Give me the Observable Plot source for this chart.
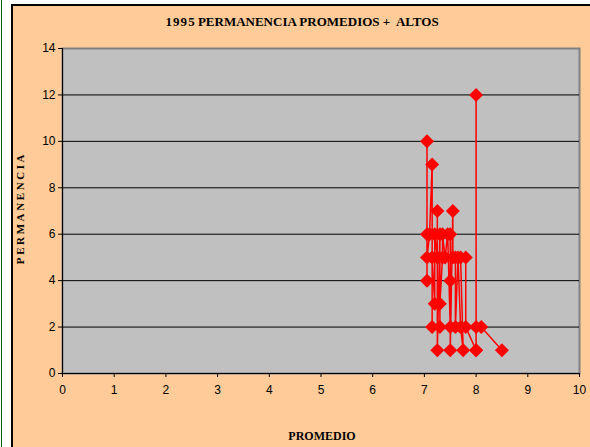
<!DOCTYPE html>
<html><head><meta charset="utf-8">
<script src="https://cdn.jsdelivr.net/npm/d3@7"></script>
<script src="https://cdn.jsdelivr.net/npm/@observablehq/plot@0.6"></script>
<style>
html,body{margin:0;padding:0;background:#fff;width:590px;height:447px;overflow:hidden;}
#wrap{position:relative;width:590px;height:447px;}
#greenline{position:absolute;left:1px;top:0;width:1px;height:447px;background:#006400;}
#panel{position:absolute;left:11px;top:4px;width:579px;height:443px;background:#FFCC99;border-left:2px solid #000;border-top:2px solid #000;box-sizing:border-box;}
#chart{position:absolute;left:0;top:0;}
.t{position:absolute;font-family:"Liberation Serif","Times New Roman",serif;font-weight:bold;color:#000;white-space:nowrap;}
#title{left:0;width:590px;top:14px;text-align:center;font-size:13px;letter-spacing:0px;padding-left:14px;box-sizing:border-box;}
#xlab{left:0;width:590px;top:429px;text-align:center;font-size:12px;padding-left:54px;box-sizing:border-box;}
#ylab{left:20px;top:208px;font-size:11px;letter-spacing:2.6px;transform:translate(-50%,-50%) rotate(-90deg);}
</style></head>
<body>
<div id="wrap">
<div id="greenline"></div>
<div id="panel"></div>
<div id="chart"></div>
<div class="t" id="title">1&#8202;9&#8202;9&#8202;5 PERMANENCIA PROMEDIOS +&nbsp; ALTOS</div>
<div class="t" id="xlab">PROMEDIO</div>
<div class="t" id="ylab">PERMANENCIA</div>
</div>
<script>
const promedio    = [7.05, 7.05, 7.05, 7.05, 7.10, 7.15, 7.15, 7.15, 7.20, 7.20, 7.25, 7.25, 7.25, 7.30, 7.30, 7.30, 7.35, 7.35, 7.40, 7.45, 7.50, 7.50, 7.50, 7.50, 7.55, 7.55, 7.60, 7.60, 7.65, 7.70, 7.75, 7.70, 7.80, 7.80, 8.00, 8.00, 8.00, 8.00, 8.10, 8.50];
const permanencia = [6,    10,   4,    5,    6,    9,    2,    5,    3,    6,    5,    7,    1,    6,    2,    3,    5,    6,    5,    6,    2,    4,    6,    1,    7,    5,    5,    2,    5,    2,    1,    5,    5,    2,    1,    12,   1,    2,    2,    1];
const xTicks = [0,1,2,3,4,5,6,7,8,9,10];
const yTicks = [0,2,4,6,8,10,12,14];

const data = promedio.map((p,i)=>({x:p, y:permanencia[i]}));

const chart = Plot.plot({
  width: 590, height: 447,
  marginLeft: 62, marginRight: 11, marginTop: 48, marginBottom: 74,
  style: {background: "transparent", fontFamily: "'Liberation Sans Narrow', 'Liberation Sans', Arial, sans-serif", fontSize: "12px", color: "#000"},
  x: {domain: [0,10], ticks: xTicks, label: null},
  y: {domain: [0,14], ticks: yTicks, label: null},
  marks: [
    Plot.frame({fill: "#C0C0C0", stroke: "#808080", strokeWidth: 2}),
    Plot.gridY(yTicks.filter(d=>d>0 && d<14), {stroke: "#000", strokeOpacity: 1, strokeWidth: 1}),
    Plot.ruleX([0], {stroke: "#000"}),
    Plot.ruleY([0], {stroke: "#000"}),
    Plot.axisX({ticks: xTicks, tickSize: 4, tickPadding: 8, label: null, stroke: "#000"}),
    Plot.axisY({ticks: yTicks, tickSize: 4, tickPadding: 3, label: null, stroke: "#000"}),
    Plot.line(data, {x: "x", y: "y", stroke: "#FF0000", strokeWidth: 1.5}),
    Plot.dot(data, {x: "x", y: "y", symbol: "diamond2", r: 6.3, fill: "#FF0000", stroke: "none"})
  ]
});
document.getElementById("chart").appendChild(chart);
</script>
</body></html>
